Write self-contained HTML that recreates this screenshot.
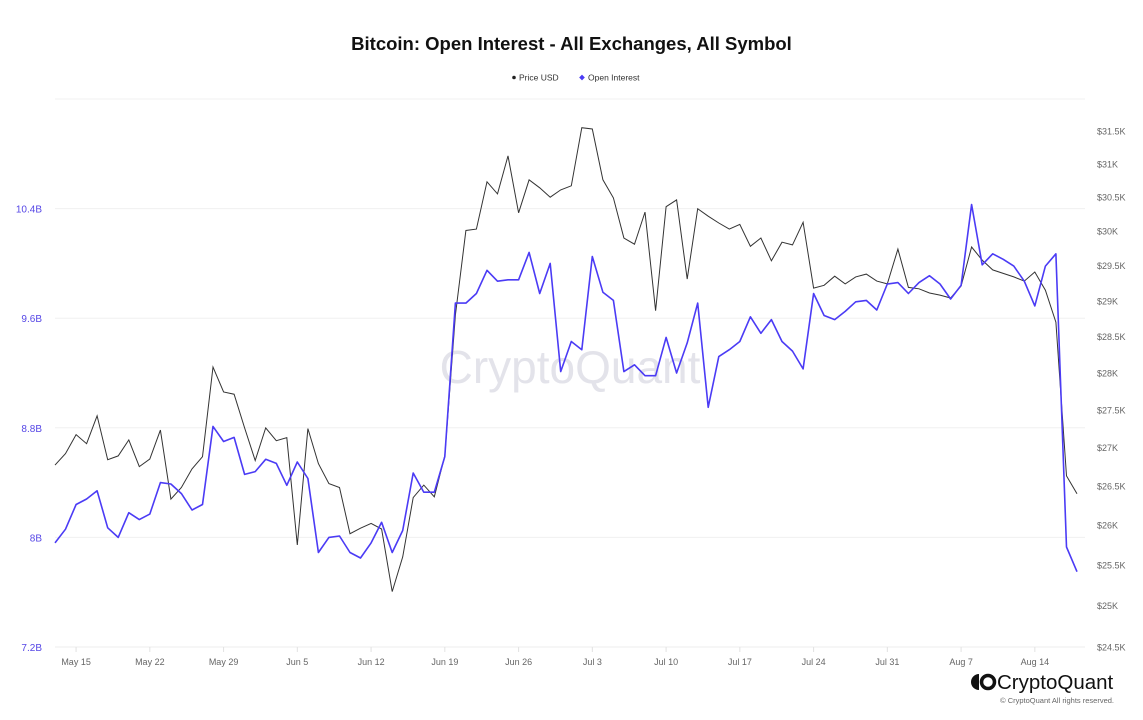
<!DOCTYPE html>
<html><head><meta charset="utf-8"><style>
body{margin:0;background:#fff;font-family:"Liberation Sans",sans-serif;}
#wrap{position:relative;width:1143px;height:720px;overflow:hidden;}
</style></head><body>
<div id="wrap">
<svg id="chart" width="1143" height="720"></svg>
</div>
<script>
const xTickLabels = ["May 15","May 22","May 29","Jun 5","Jun 12","Jun 19","Jun 26","Jul 3","Jul 10","Jul 17","Jul 24","Jul 31","Aug 7","Aug 14"];
const xTickIndex = [2,9,16,23,30,37,44,51,58,65,72,79,86,93];
const oiTicks = [7.2,8,8.8,9.6,10.4];
const oiTickLabels = ["7.2B","8B","8.8B","9.6B","10.4B"];
const priceTicks = [24.5,25,25.5,26,26.5,27,27.5,28,28.5,29,29.5,30,30.5,31,31.5];
const priceValues = [26.77,26.92,27.17,27.05,27.42,26.84,26.89,27.10,26.75,26.85,27.23,26.33,26.48,26.72,26.88,28.08,27.74,27.71,27.26,26.83,27.26,27.09,27.13,25.75,27.25,26.79,26.53,26.48,25.89,25.96,26.02,25.95,25.17,25.60,26.35,26.51,26.36,26.89,
28.80,30.01,30.03,30.73,30.55,31.12,30.27,30.76,30.64,30.50,30.61,30.67,31.55,31.53,30.76,30.49,29.90,29.81,30.28,28.86,30.36,30.46,29.31,30.33,30.22,30.12,30.03,30.10,29.78,29.90,29.57,29.84,29.80,30.13,
29.18,29.22,29.35,29.24,29.34,29.38,29.28,29.24,29.74,29.19,29.17,29.11,29.08,29.04,29.21,29.77,29.58,29.44,29.39,29.34,29.28,29.41,29.15,28.70,26.63,26.40];
const oiValues = [7.96,8.06,8.24,8.28,8.34,8.07,8.00,8.18,8.13,8.17,8.40,8.39,8.32,8.20,8.24,8.81,8.70,8.73,8.46,8.48,8.57,8.54,8.38,8.55,8.43,7.89,8.00,8.01,7.89,7.85,7.96,8.11,7.89,8.05,8.47,8.33,8.33,8.59,
9.71,9.71,9.78,9.95,9.87,9.88,9.88,10.08,9.78,10.00,9.21,9.43,9.37,10.05,9.79,9.73,9.21,9.26,9.18,9.18,9.46,9.20,9.42,9.71,8.95,9.32,9.37,9.43,9.61,9.49,9.59,9.43,9.36,9.23,
9.78,9.62,9.59,9.65,9.72,9.73,9.66,9.85,9.86,9.78,9.86,9.91,9.85,9.74,9.84,10.43,9.99,10.07,10.03,9.98,9.87,9.69,9.98,10.07,7.93,7.75];

const NS="http://www.w3.org/2000/svg";
const svg=document.getElementById('chart');
function mk(tag,attrs,parent){const e=document.createElementNS(NS,tag);for(const k in attrs)e.setAttribute(k,attrs[k]);(parent||svg).appendChild(e);return e;}
const x = i => 55 + i*10.536;
const yOI = v => 647 - (v-7.2)/0.8*109.6;
const yP = v => 131 + Math.log(31.5/v)/0.000487;

const t=mk('text',{x:571.5,y:50,'text-anchor':'middle','font-size':'18.5','font-weight':'bold',fill:'#111'});
t.textContent='Bitcoin: Open Interest - All Exchanges, All Symbol';



const lg1=mk('g',{});


mk('circle',{cx:514,cy:77.5,r:1.8,fill:'#222'},lg1);
const l1=mk('text',{x:519,y:80.5,'font-size':'8.5',fill:'#333'},lg1);l1.textContent='Price USD';
const lg2=mk('g',{});


mk('rect',{x:580,y:75.5,width:4,height:4,fill:'#4b3bf5',transform:'rotate(45 582 77.5)'},lg2);
const l2=mk('text',{x:588,y:80.5,'font-size':'8.5',fill:'#333'},lg2);l2.textContent='Open Interest';

mk('line',{x1:55,x2:1085,y1:99,y2:99,stroke:'#f2f2f2'});
oiTicks.forEach((v,i)=>{
  const yy=yOI(v);
  if(i>0){const g=mk('line',{x1:55,x2:1085,y1:yy,y2:yy,stroke:'#f0f0f0'});
  
  }
  const tx=mk('text',{x:42,y:yy+4,'text-anchor':'end','font-size':'10',fill:'#5546e6'});
  tx.textContent=oiTickLabels[i];
  
  
});
priceTicks.forEach(v=>{
  const tx=mk('text',{x:1097,y:yP(v)+3.5,'font-size':'9',fill:'#666'});
  tx.textContent='$'+(v%1===0?v.toFixed(0):v.toFixed(1))+'K';
  
  
});
mk('line',{x1:55,x2:1085,y1:647,y2:647,stroke:'#ececec'});
xTickIndex.forEach((idx,i)=>{
  const xx=x(idx);
  mk('line',{x1:xx,x2:xx,y1:647,y2:652,stroke:'#e2e2e2'});
  const tx=mk('text',{x:xx,y:665,'text-anchor':'middle','font-size':'9',fill:'#666'});
  tx.textContent=xTickLabels[i];
  
  
});

const wm=mk('text',{x:570,y:383,'text-anchor':'middle','font-size':'46',fill:'#e3e3ea'});
wm.textContent='CryptoQuant';



const pp=mk('path',{d:priceValues.map((v,i)=>(i?'L':'M')+x(i).toFixed(1)+','+yP(v).toFixed(1)).join(''),fill:'none',stroke:'#333',"stroke-width":1});


const op=mk('path',{d:oiValues.map((v,i)=>(i?'L':'M')+x(i).toFixed(1)+','+yOI(v).toFixed(1)).join(''),fill:'none',stroke:'#4b3bf5',"stroke-width":1.6,"stroke-linejoin":"round"});



const bg=mk('g',{});


mk('path',{d:'M979,674 A8,8 0 0 0 979,690 Z',fill:'#111'},bg);
mk('circle',{cx:988,cy:682,r:6.5,fill:'none',stroke:'#111','stroke-width':3.5},bg);
const bt=mk('text',{x:997,y:689,'font-size':'20.5',fill:'#111'},bg);bt.textContent='CryptoQuant';
const cp=mk('text',{x:1114,y:703,'text-anchor':'end','font-size':'7.5',fill:'#666'});
cp.textContent='© CryptoQuant All rights reserved.';


</script>
</body></html>
